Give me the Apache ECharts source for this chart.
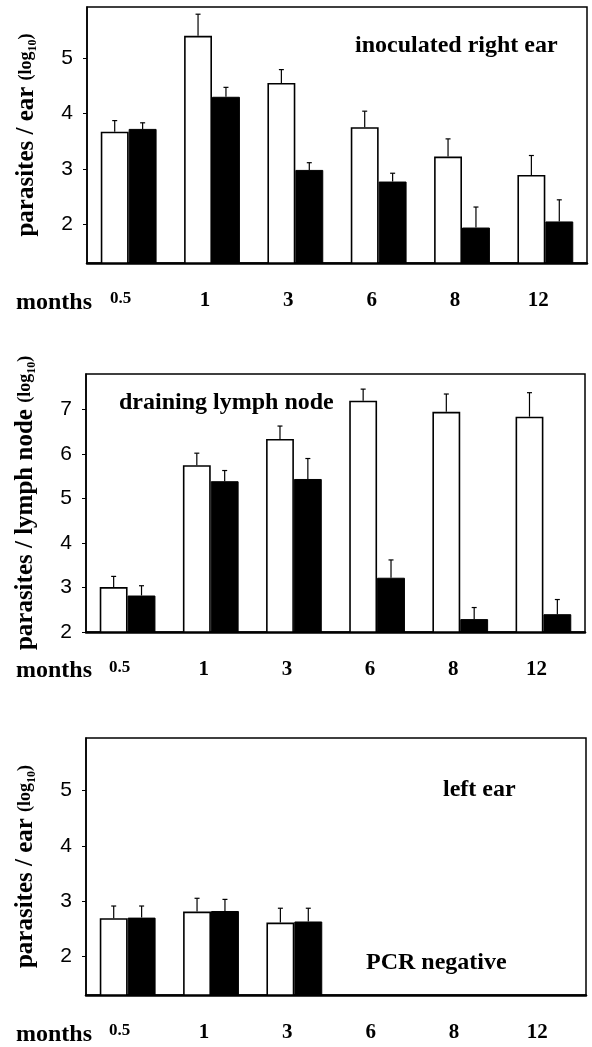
<!DOCTYPE html>
<html>
<head>
<meta charset="utf-8">
<script src="https://cdn.jsdelivr.net/npm/echarts@6/dist/echarts.min.js"></script>
<style>
html,body{margin:0;padding:0;background:#fff;}
#chart{width:592px;height:1047px;}
</style>
</head>
<body>
<div id="chart"></div>
<script>
// ---- data ----
var months = ['0.5', '1', '3', '6', '8', '12'];

// inoculated right ear
var earWhite = [3.67, 5.40, 4.55, 3.75, 3.22, 2.89];
var earWhiteSE = [0.20, 0.39, 0.24, 0.29, 0.32, 0.35];
var earBlack = [3.72, 4.30, 2.98, 2.77, 1.94, 2.05];
var earBlackSE = [0.11, 0.17, 0.13, 0.15, 0.37, 0.39];

// draining lymph node
var lnWhite = [3.01, 5.75, 6.34, 7.20, 6.95, 6.84];
var lnWhiteSE = [0.24, 0.27, 0.29, 0.26, 0.40, 0.54];
var lnBlack = [2.82, 5.39, 5.44, 3.22, 2.29, 2.40];
var lnBlackSE = [0.22, 0.24, 0.46, 0.40, 0.26, 0.33];

// left ear (6, 8, 12 months: PCR negative)
var leftWhite = [2.69, 2.81, 2.61, null, null, null];
var leftWhiteSE = [0.22, 0.24, 0.26, null, null, null];
var leftBlack = [2.70, 2.82, 2.63, null, null, null];
var leftBlackSE = [0.21, 0.21, 0.24, null, null, null];

var earTicks = [2, 3, 4, 5];
var lnTicks = [2, 3, 4, 5, 6, 7];

// ---- styling ----
var SERIF = '"Liberation Serif", "Times New Roman", serif';
var SANS = '"Liberation Sans", Arial, sans-serif';
var GAP = 0.33;

var chart = echarts.init(document.getElementById('chart'), null, {renderer: 'canvas'});

var grids = [
  {left: 87, right: 5, top: 7, height: 256},
  {left: 86, right: 7, top: 374, height: 258},
  {left: 86, right: 6, top: 738, height: 257}
];

function yName(text) {
  return '{a|' + text + ' }{b|(log}{s|10}{b|)}';
}
var nameRich = {
  a: {fontFamily: SERIF, fontWeight: 'bold', fontSize: 25, color: '#000'},
  b: {fontFamily: SERIF, fontWeight: 'bold', fontSize: 18, color: '#000'},
  s: {fontFamily: SERIF, fontWeight: 'bold', fontSize: 12, color: '#000', verticalAlign: 'bottom'}
};

function xAxis(gi) {
  return {
    type: 'category', gridIndex: gi, data: months,
    axisLine: {show: true, lineStyle: {color: '#000', width: 2.5}},
    axisTick: {show: false},
    axisLabel: {
      margin: 27, color: '#000',
      formatter: function (v) { return v === '0.5' ? '{h|' + v + '}' : '{n|' + v + '}'; },
      rich: {
        h: {fontFamily: SERIF, fontWeight: 'bold', fontSize: 17, padding: [0, 16, 12, 0]},
        n: {fontFamily: SERIF, fontWeight: 'bold', fontSize: 21, padding: [0, 14, 0, 0]}
      }
    },
    splitLine: {show: false}
  };
}
function yAxis(gi, min, max, ticks, title) {
  return {
    type: 'value', gridIndex: gi, min: min, max: max,
    axisLine: {show: true, lineStyle: {color: '#000', width: 1.5}},
    axisTick: {show: true, length: 4, customValues: ticks, lineStyle: {color: '#000'}},
    axisLabel: {customValues: ticks, margin: 14, color: '#000', fontFamily: SANS, fontSize: 21},
    splitLine: {show: false},
    name: yName(title), nameLocation: 'middle', nameRotate: 90, nameGap: 48,
    nameTextStyle: {rich: nameRich}
  };
}

function barSeries(gi, data, white) {
  return {
    type: 'bar', xAxisIndex: gi, yAxisIndex: gi,
    data: data.map(function (v) { return v == null ? '-' : v; }),
    barGap: '0%', barCategoryGap: (GAP * 100) + '%',
    itemStyle: white ? {color: '#fff', borderColor: '#000', borderWidth: 1.6}
                     : {color: '#000', borderColor: '#000', borderWidth: 1},
    silent: true, animation: false
  };
}
function errSeries(gi, mean, se, white) {
  var pts = [];
  for (var i = 0; i < mean.length; i++) {
    if (mean[i] != null) pts.push([i, mean[i], mean[i] + se[i]]);
  }
  return {
    type: 'custom', xAxisIndex: gi, yAxisIndex: gi, data: pts, silent: true, animation: false,
    z: 5,
    renderItem: function (params, api) {
      var bandW = api.size([1, 0])[0];
      var barW = bandW * (1 - GAP) / 2;
      var base = api.coord([api.value(0), api.value(1)]);
      var top = api.coord([api.value(0), api.value(2)]);
      var x = base[0] + (white ? -barW / 2 : barW / 2);
      var col = '#000';
      return {
        type: 'group',
        children: [
          {type: 'line', shape: {x1: x, y1: base[1], x2: x, y2: top[1]}, style: {stroke: col, lineWidth: 1.2}},
          {type: 'line', shape: {x1: x - 2.5, y1: top[1], x2: x + 2.5, y2: top[1]}, style: {stroke: col, lineWidth: 1.2}}
        ]
      };
    }
  };
}

function txt(x, y, s, size, align) {
  return {type: 'text', left: x, top: y, style: {text: s, fontFamily: SERIF, fontWeight: 'bold', fontSize: size, fill: '#000', textAlign: align || 'left'}};
}

var option = {
  backgroundColor: '#fff',
  animation: false,
  grid: grids.map(function (g) {
    return Object.assign({show: true, borderColor: '#000', borderWidth: 1.5, backgroundColor: 'transparent'}, g);
  }),
  xAxis: [xAxis(0), xAxis(1), xAxis(2)],
  yAxis: [
    yAxis(0, 1.3, 5.92, earTicks, 'parasites / ear'),
    yAxis(1, 2, 7.8, lnTicks, 'parasites / lymph node'),
    yAxis(2, 1.3, 5.95, earTicks, 'parasites / ear')
  ],
  series: [
    barSeries(0, earWhite, true), barSeries(0, earBlack, false),
    errSeries(0, earWhite, earWhiteSE, true), errSeries(0, earBlack, earBlackSE, false),
    barSeries(1, lnWhite, true), barSeries(1, lnBlack, false),
    errSeries(1, lnWhite, lnWhiteSE, true), errSeries(1, lnBlack, lnBlackSE, false),
    barSeries(2, leftWhite, true), barSeries(2, leftBlack, false),
    errSeries(2, leftWhite, leftWhiteSE, true), errSeries(2, leftBlack, leftBlackSE, false)
  ],
  graphic: [
    txt(355, 34, 'inoculated right ear', 24),
    txt(119, 391, 'draining lymph node', 24),
    txt(443, 778, 'left ear', 24),
    txt(366, 951, 'PCR negative', 24),
    txt(16, 291, 'months', 24),
    txt(16, 659, 'months', 24),
    txt(16, 1023, 'months', 24)
  ]
};
chart.setOption(option);
</script>
</body>
</html>
